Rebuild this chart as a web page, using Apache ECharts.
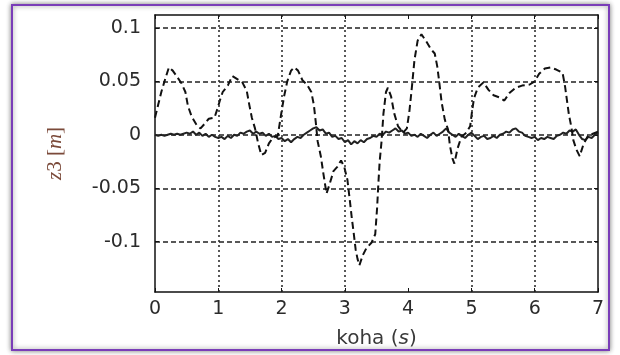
<!DOCTYPE html>
<html>
<head>
<meta charset="utf-8">
<script src="https://cdn.jsdelivr.net/npm/echarts@6/dist/echarts.min.js"></script>
<style>
  html, body { margin: 0; padding: 0; background: #fff; }
  #chart { width: 620px; height: 355px; }
</style>
</head>
<body>
<div id="chart"></div>
<script>
// dashed curve: (time, z3)
const dashT = [0.00,0.05,0.10,0.16,0.22,0.28,0.34,0.42,0.48,0.52,0.58,0.66,0.72,0.78,0.85,0.94,0.99,1.03,1.07,1.15,
  1.22,1.30,1.38,1.45,1.49,1.53,1.58,1.63,1.68,1.74,1.80,1.86,1.94,1.99,2.04,2.09,2.15,2.20,2.26,2.33,
  2.40,2.47,2.51,2.54,2.57,2.62,2.66,2.71,2.76,2.82,2.88,2.94,2.99,3.04,3.08,3.11,3.14,3.17,3.20,3.23,
  3.28,3.34,3.42,3.48,3.51,3.53,3.55,3.58,3.61,3.65,3.68,3.73,3.78,3.84,3.92,3.98,4.02,4.06,4.10,4.15,
  4.21,4.29,4.36,4.42,4.46,4.49,4.53,4.58,4.63,4.66,4.70,4.73,4.78,4.84,4.92,4.98,5.01,5.04,5.10,5.19,
  5.27,5.35,5.44,5.52,5.60,5.70,5.80,5.92,6.00,6.07,6.16,6.25,6.34,6.44,6.48,6.51,6.54,6.58,6.61,6.66,
  6.71,6.77,6.84,6.92,7.00];
const dashV = [0.016,0.028,0.040,0.052,0.063,0.060,0.055,0.048,0.040,0.027,0.017,0.009,0.006,0.010,0.015,0.016,0.025,0.033,0.040,0.046,
  0.055,0.052,0.049,0.041,0.028,0.016,0.006,-0.008,-0.019,-0.017,-0.008,-0.003,-0.001,0.018,0.036,0.050,0.060,0.063,0.060,0.051,
  0.047,0.040,0.028,0.012,-0.006,-0.020,-0.036,-0.055,-0.046,-0.034,-0.030,-0.024,-0.030,-0.042,-0.062,-0.078,-0.092,-0.107,-0.116,-0.122,
  -0.113,-0.106,-0.101,-0.093,-0.068,-0.045,-0.025,-0.006,0.020,0.040,0.044,0.036,0.020,0.008,0.002,0.006,0.022,0.045,0.070,0.088,
  0.094,0.087,0.080,0.076,0.064,0.050,0.030,0.014,0.005,-0.010,-0.022,-0.027,-0.013,-0.002,0.002,0.008,0.022,0.034,0.044,0.049,
  0.042,0.037,0.035,0.032,0.039,0.044,0.046,0.047,0.050,0.057,0.062,0.063,0.061,0.058,0.045,0.032,0.019,0.007,-0.005,-0.014,
  -0.020,-0.009,-0.001,0.001,0.003];

// solid curve, sampled every 0.05 s
const solidStep = 0.05;
const solidV = [0.000,-0.001,0.000,-0.001,0.000,0.001,0.000,0.001,0.000,0.001,
  0.002,0.001,0.003,0.000,0.002,-0.001,0.001,-0.002,0.000,-0.002,
  -0.003,-0.002,-0.004,-0.001,-0.003,0.000,-0.001,0.002,0.001,0.003,
  0.004,0.001,0.003,0.001,0.002,-0.001,0.001,-0.002,-0.001,-0.004,
  -0.003,-0.006,-0.004,-0.007,-0.004,-0.002,-0.003,0.000,0.002,0.004,
  0.006,0.007,0.004,0.005,0.001,0.002,-0.002,-0.001,-0.004,-0.003,
  -0.007,-0.005,-0.009,-0.006,-0.008,-0.005,-0.007,-0.004,-0.003,-0.001,
  -0.002,0.001,0.000,0.003,0.002,0.004,0.006,0.003,0.004,0.001,
  0.002,-0.001,0.000,-0.002,0.001,-0.001,-0.003,0.000,0.002,-0.001,
  0.001,0.003,0.006,0.002,0.000,-0.002,0.001,-0.001,-0.003,0.000,
  0.002,-0.001,-0.004,-0.002,-0.001,-0.004,-0.003,-0.001,-0.003,0.000,
  0.001,0.003,0.002,0.005,0.006,0.003,0.002,-0.001,-0.002,-0.003,
  -0.002,-0.005,-0.003,-0.004,-0.002,-0.003,-0.004,-0.001,0.000,0.002,
  0.001,0.004,0.003,0.005,0.000,-0.004,-0.005,-0.002,-0.003,0.000,
  0.002];

const yTicks = [-0.1, -0.05, 0, 0.05, 0.1];
const xGridAt = [1, 2, 3, 5, 6];   // no grid line at 4 in the original
const yMin = -0.147, yMax = 0.112;

const fontFamily = "'DejaVu Sans', Arial, sans-serif";
const ink = "#2b2b2b";
const nameInk = "#7b4a3a";

const chart = echarts.init(document.getElementById("chart"), null, { renderer: "canvas" });

const dashData = dashT.map((t, i) => [t, dashV[i]]);
const solidData = solidV.map((v, i) => [+(i * solidStep).toFixed(2), v]);

const frameLine = { show: true, onZero: false, lineStyle: { color: "#111", width: 1.5 } };
const tickIn = { show: true, inside: true, length: 4, lineStyle: { color: "#111" } };

chart.setOption({
  backgroundColor: "#fff",
  animation: false,
  graphic: [
    {
      type: "rect",
      z: -10,
      shape: { x: 12, y: 5, width: 597, height: 345 },
      style: {
        fill: "#fff",
        stroke: "#7a3db8",
        lineWidth: 2,
        shadowBlur: 5,
        shadowColor: "rgba(0,0,0,0.45)",
      },
    },
  ],
  grid: { left: 155, right: 22, top: 15, bottom: 63 },
  xAxis: [
    {
      type: "value",
      min: 0,
      max: 7,
      interval: 1,
      name: "{n|koha (}{i|s}{n|)}",
      nameLocation: "middle",
      nameGap: 37,
      nameTextStyle: {
        rich: {
          n: { fontFamily, fontSize: 20, color: "#3a3a3a" },
          i: { fontFamily, fontSize: 20, color: "#3a3a3a", fontStyle: "italic" },
        },
      },
      axisLine: frameLine,
      axisTick: tickIn,
      axisLabel: { fontFamily, fontSize: 19, color: ink, margin: 8 },
      splitLine: { show: false },
    },
    {
      type: "value", position: "top", min: 0, max: 7, interval: 1,
      axisLine: frameLine, axisTick: tickIn, axisLabel: { show: false }, splitLine: { show: false },
    },
  ],
  yAxis: [
    {
      type: "value",
      min: yMin,
      max: yMax,
      name: "{i|z}{n|3 [}{i|m}{n|]}",
      nameLocation: "middle",
      nameGap: 89,
      nameRotate: 90,
      nameTextStyle: {
        rich: {
          n: { fontFamily: "'Liberation Serif', serif", fontSize: 21, color: nameInk },
          i: { fontFamily: "'Liberation Serif', serif", fontSize: 21, color: nameInk, fontStyle: "italic" },
        },
      },
      axisLine: frameLine,
      axisTick: { ...tickIn, customValues: yTicks },
      axisLabel: { fontFamily, fontSize: 19, color: ink, margin: 14, customValues: yTicks },
      splitLine: { show: true, lineStyle: { color: "#222", width: 1.5, type: [5, 3] } },
    },
    {
      type: "value",
      position: "right",
      min: yMin,
      max: yMax,
      axisLine: frameLine,
      axisTick: { ...tickIn, customValues: yTicks },
      axisLabel: { show: false },
      splitLine: { show: false },
    },
  ],
  series: [
    {
      type: "line",
      data: solidData,
      showSymbol: false,
      lineStyle: { color: "#222", width: 2 },
      z: 3,
    },
    {
      type: "line",
      data: dashData,
      showSymbol: false,
      lineStyle: { color: "#111", width: 2, type: [7, 4] },
      z: 4,
      markLine: {
        silent: true,
        symbol: "none",
        label: { show: false },
        lineStyle: { color: "#222", width: 1.5, type: [2, 3] },
        data: xGridAt.map((x) => ({ xAxis: x })),
      },
    },
  ],
});
</script>
</body>
</html>
